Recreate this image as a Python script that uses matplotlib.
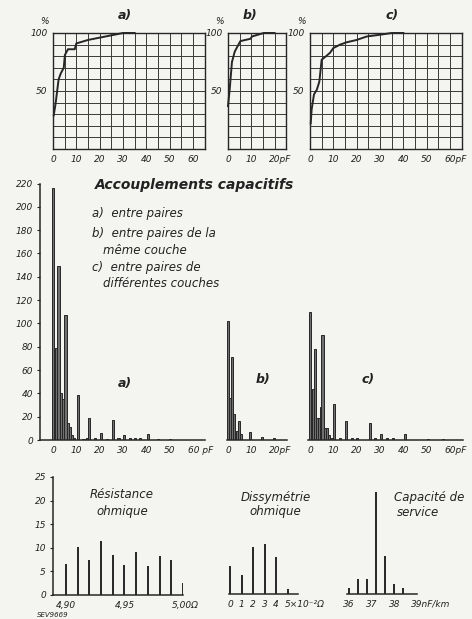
import numpy as np
import matplotlib
matplotlib.use('Agg')
from matplotlib import pyplot as plt
from matplotlib.transforms import ScaledTranslation

# courbes cumulées (%)
cum_a_x = [0.3, 1.1, 2.4, 3.3, 4.6, 5.1, 6.4, 9.3, 10, 15, 20, 25, 30, 35]
cum_a_y = [29, 39, 60, 65, 70, 81, 86, 86, 91, 94, 96, 98, 100, 100]
cum_b_x = [0, 0.7, 1.7, 2.9, 5.3, 7.4, 9.6, 10.3, 15.3, 20]
cum_b_y = [37, 51, 75, 84, 93, 94, 95, 97, 100, 100]
cum_c_x = [0.3, 0.7, 1.7, 2.9, 4, 5, 6.9, 8.6, 10, 12.9, 15.7, 20, 21.4, 24.3, 30, 35, 40]
cum_c_y = [22, 34, 47, 51, 58, 77, 80, 83, 87, 90, 92, 94, 95, 97, 98.5, 100, 100]

# histogrammes des accouplements capacitifs (pF -> nombre)
hist_a_x = [0, 1.3, 2.3, 3.2, 4.1, 5.3, 6.3, 7.2, 8, 9, 10.5, 13, 14.5, 15.5, 18,
            20.5, 23, 25.5, 28, 30.5, 33, 35, 37, 40.5, 45, 50]
hist_a_n = [216, 79, 149, 40, 35, 107, 15, 11, 4, 2, 39, 1, 1.5, 18.5, 2,
            6, 1, 17.5, 1.5, 4, 1.5, 1.5, 1.5, 5, 1, 1]
hist_b_x = [0, 0.9, 1.9, 2.7, 3.7, 4.7, 5.6, 9.4, 14.4, 19.9]
hist_b_n = [102, 36, 71, 22, 8, 16, 5, 7, 3, 2]
hist_c_x = [0, 1.1, 2.1, 3.1, 4, 4.6, 5.3, 6.4, 7.4, 8.3, 9.3, 10.4, 12.9, 15.4,
            17.9, 20, 25.7, 27.9, 30.3, 32.9, 35.7, 40.7, 50.7, 57]
hist_c_n = [110, 44, 78, 19, 19, 28, 90, 10, 10, 4, 2, 31, 2, 16,
            2, 1.5, 15, 1.5, 5, 1.5, 2, 5, 1, 1]

# résistance ohmique
res_x = [4.90, 4.91, 4.92, 4.93, 4.94, 4.95, 4.96, 4.97, 4.98, 4.99, 5.00]
res_n = [6.5, 10.2, 7.4, 11.4, 8.5, 6.3, 9.2, 6.2, 8.2, 7.5, 2.5]
# dissymétrie ohmique (x10^-2 ohm)
dis_x = [0, 1, 2, 3, 4, 5]
dis_n = [6.0, 4.0, 9.9, 10.6, 7.9, 1.1]
# capacité de service (nF/km)
cap_x = [36.0, 36.4, 36.8, 37.2, 37.6, 38.0, 38.4]
cap_n = [1.2, 3.1, 3.2, 21.6, 8.1, 2.1, 1.2]

W, H = 472, 619
plt.rcParams['font.family'] = 'DejaVu Sans'
plt.rcParams['font.style'] = 'italic'
plt.rcParams['text.color'] = '#222222'
plt.rcParams['xtick.color'] = '#222222'
plt.rcParams['ytick.color'] = '#222222'
ink = '#262626'
paper = '#f4f4f1'
fs_tick = 6.5

fig = plt.figure(figsize=(W / 100, H / 100), dpi=100, facecolor=paper)


def boite(x0, x1, y0, y1):
    # axes placés en pixels (y0 = haut, y1 = bas)
    ax = fig.add_axes([x0 / W, 1 - y1 / H, (x1 - x0) / W, (y1 - y0) / H])
    ax.set_facecolor('none')
    return ax


def texte(x, y, s, **kw):
    fig.text(x / W, 1 - y / H, s, **kw)


def unite(ax, labels, s):
    # dernier libellé de l'axe x : chiffre centré sur le repère, unité à droite
    nombre = labels[-1]
    ax.set_xticklabels(labels[:-1] + [nombre + s])
    lab = ax.get_xticklabels()[-1]
    lab.set_ha('left')
    demi = 0.5 * len(nombre) * 0.62 * fs_tick / 72
    lab.set_transform(lab.get_transform() + ScaledTranslation(-demi, 0, fig.dpi_scale_trans))


# --- courbes cumulées en haut ---
def cumul(x0, x1, xmax, xs, ys, ticks, titre, tx):
    ax = boite(x0, x1, 33, 149)
    ax.set_xlim(0, xmax)
    ax.set_ylim(0, 100)
    ax.set_xticks(np.arange(0, xmax + 0.1, 5), minor=True)
    ax.set_yticks(np.arange(0, 101, 10), minor=True)
    ax.set_xticks(ticks)
    ax.set_xticklabels([str(t) for t in ticks])
    ax.set_yticks([50, 100])
    ax.set_yticklabels(['50', '100'])
    ax.grid(True, which='both', color='#3a3a3a', lw=0.7)
    ax.tick_params(which='both', length=0, labelsize=fs_tick, pad=4)
    for sp in ax.spines.values():
        sp.set_color(ink)
        sp.set_linewidth(1.0)
    ax.plot(xs, ys, color=ink, lw=1.4, clip_on=False, zorder=5)
    texte(x0 - 9, 21, '%', fontsize=fs_tick, ha='center', va='center')
    texte(tx, 15, titre, fontsize=9, weight='bold', ha='center', va='center')
    return ax


pf_ticks = [0, 10, 20, 30, 40, 50, 60]
pf_labels = [str(t) for t in pf_ticks]

ax = cumul(53, 204.7, 65, cum_a_x, cum_a_y, pf_ticks, 'a)', 125)
ax = cumul(228, 286.3, 25, cum_b_x, cum_b_y, [0, 10, 20], 'b)', 250)
unite(ax, ['0', '10', '20'], 'pF')
ax = cumul(310, 461.7, 65, cum_c_x, cum_c_y, pf_ticks, 'c)', 392)
unite(ax, pf_labels, 'pF')


# --- histogrammes des accouplements ---
def histo(x0, x1, xmin, xmax, xs, ns, ticks, gauche=False):
    ax = boite(x0, x1, 183.5, 440)
    ax.set_xlim(xmin, xmax)
    ax.set_ylim(0, 220)
    ax.bar(xs, ns, width=0.9, color='#707070', edgecolor=ink, lw=0.7)
    for sp in ['top', 'right']:
        ax.spines[sp].set_visible(False)
    ax.spines['bottom'].set_color(ink)
    ax.spines['bottom'].set_linewidth(1.1)
    ax.set_xticks(ticks)
    ax.set_xticklabels([str(t) for t in ticks])
    ax.tick_params(axis='x', length=0, labelsize=fs_tick, pad=4)
    if gauche:
        ax.spines['left'].set_color(ink)
        ax.spines['left'].set_linewidth(1.1)
        ax.set_yticks(np.arange(0, 221, 20))
        ax.tick_params(axis='y', length=2, width=0.8, direction='out',
                       labelsize=fs_tick, pad=3)
    else:
        ax.spines['left'].set_visible(False)
        ax.set_yticks([])
    return ax


ax = histo(40, 205, -5.6, 65, hist_a_x, hist_a_n, pf_ticks, True)
unite(ax, pf_labels, ' pF')
ax = histo(227, 287, -0.4, 25.3, hist_b_x, hist_b_n, [0, 10, 20])
unite(ax, ['0', '10', '20'], 'pF')
ax = histo(308, 463, -0.9, 65.6, hist_c_x, hist_c_n, pf_ticks)
unite(ax, pf_labels, 'pF')

texte(125, 383, 'a)', fontsize=9, weight='bold', ha='center', va='center')
texte(263, 380, 'b)', fontsize=9, weight='bold', ha='center', va='center')
texte(368, 380, 'c)', fontsize=9, weight='bold', ha='center', va='center')

texte(95, 185, 'Accouplements capacitifs', fontsize=10, weight='bold',
      ha='left', va='center')
texte(92, 213, 'a)  entre paires', fontsize=8.5, ha='left', va='center')
texte(92, 233, 'b)  entre paires de la', fontsize=8.5, ha='left', va='center')
texte(103, 250, 'même couche', fontsize=8.5, ha='left', va='center')
texte(92, 268, 'c)  entre paires de', fontsize=8.5, ha='left', va='center')
texte(103, 284, 'différentes couches', fontsize=8.5, ha='left', va='center')


# --- histogrammes du bas ---
def bas(x0, x1, y0, y1, xmin, xmax, xs, ns, ticks, labels, gauche=False):
    ax = boite(x0, x1, y0, y1)
    ax.set_xlim(xmin, xmax)
    ax.set_ylim(0, 25)
    ax.vlines(xs, 0, ns, color=ink, lw=1.4)
    for sp in ['top', 'right']:
        ax.spines[sp].set_visible(False)
    ax.spines['bottom'].set_color(ink)
    ax.spines['bottom'].set_linewidth(1.1)
    ax.set_xticks(ticks)
    ax.set_xticklabels(labels)
    ax.tick_params(axis='x', length=0, labelsize=fs_tick, pad=4)
    if gauche:
        ax.spines['left'].set_color(ink)
        ax.spines['left'].set_linewidth(1.1)
        ax.set_yticks(np.arange(0, 26, 5))
        ax.tick_params(axis='y', length=2, width=0.8, labelsize=fs_tick, pad=3)
    else:
        ax.spines['left'].set_visible(False)
        ax.set_yticks([])
    return ax


res_labels = ['4,90', '4,95', '5,00']
ax = bas(53, 183, 477, 595, 4.889, 5.0, res_x, res_n,
         [4.90, 4.95, 5.00], res_labels, True)
unite(ax, res_labels, 'Ω')
dis_labels = ['0', '1', '2', '3', '4', '5']
ax = bas(229, 298, 476, 594, -0.09, 5.9, dis_x, dis_n,
         [0, 1, 2, 3, 4, 5], dis_labels)
unite(ax, dis_labels, '×10⁻²Ω')
cap_labels = ['36', '37', '38', '39']
ax = bas(347, 417, 476, 594, 35.91, 38.92, cap_x, cap_n,
         [36, 37, 38, 39], cap_labels)
unite(ax, cap_labels, 'nF/km')

texte(122, 495, 'Résistance', fontsize=8.5, ha='center', va='center')
texte(122, 512, 'ohmique', fontsize=8.5, ha='center', va='center')
texte(276, 497, 'Dissymétrie', fontsize=8.5, ha='center', va='center')
texte(275, 512, 'ohmique', fontsize=8.5, ha='center', va='center')
texte(429, 497, 'Capacité de', fontsize=8.5, ha='center', va='center')
texte(418, 512, 'service', fontsize=8.5, ha='center', va='center')

texte(37, 615, 'SEV9669', fontsize=5, ha='left', va='center')

fig.savefig('out.png', dpi=100, facecolor=paper)
